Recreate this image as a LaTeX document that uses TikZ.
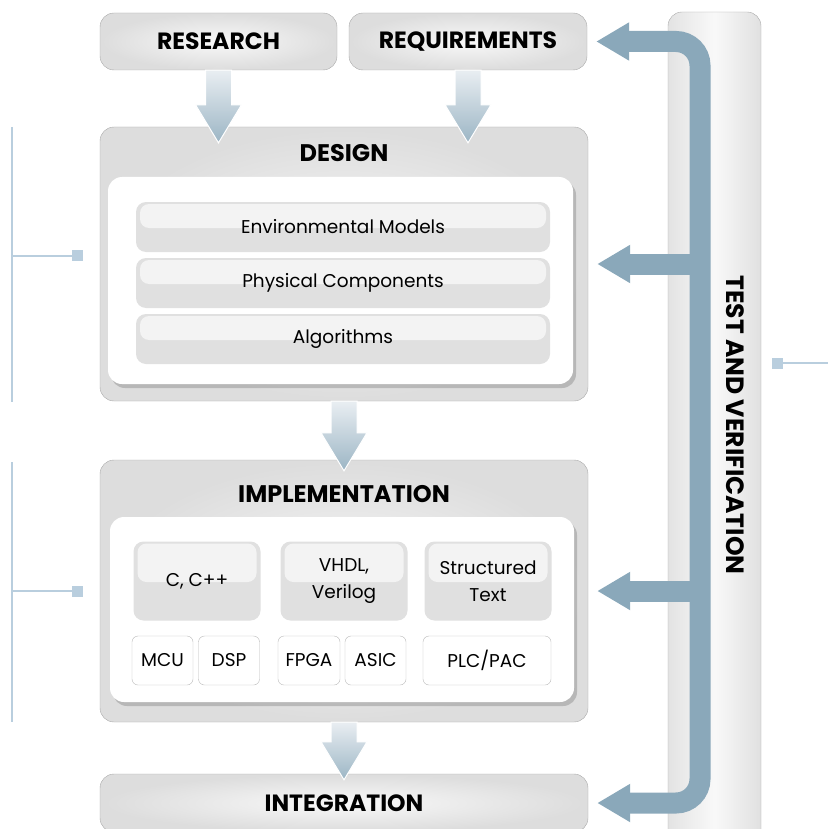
\documentclass[tikz,border=0pt]{standalone}
\usepackage{fontspec}
\setmainfont{Poppins}
\usetikzlibrary{arrows.meta,shadows,positioning}

\definecolor{fbblue}{HTML}{8AA8BA}
\definecolor{brkblue}{HTML}{B9CEDE}
\definecolor{flowtop}{HTML}{E9EEF2}
\definecolor{subgray}{HTML}{E0E0E0}
\definecolor{subhi}{HTML}{F3F3F3}
\definecolor{edgegray}{HTML}{A9A9A9}

\tikzset{
  stage/.style={draw=edgegray, rounded corners=14pt, inner sep=0pt,
    inner color=gray!5, outer color=gray!27,
    font=\bfseries\fontsize{23.5}{26}\selectfont},
  heading/.style={font=\bfseries\fontsize{24}{26}\selectfont},
  panel/.style={fill=white, rounded corners=14pt, inner sep=0pt,
    drop shadow={shadow xshift=3pt, shadow yshift=-4pt, opacity=.4}},
  part/.style={fill=subgray, rounded corners=10pt, inner sep=0pt, align=center,
    font=\fontsize{18.5}{27}\selectfont,
    path picture={\fill[subhi, rounded corners=9pt]
      ([xshift=4pt,yshift=-2pt]path picture bounding box.north west) rectangle
      ([xshift=-4pt,yshift=-1pt]path picture bounding box.east);}},
  chip/.style={draw=gray!55, fill=white, rounded corners=6pt, inner sep=0pt,
    minimum height=49pt, font=\fontsize{18.5}{22}\selectfont},
  flow/.style={draw=white, line width=1pt, top color=flowtop, bottom color=fbblue!85},
  fb/.style={draw=fbblue, line width=21pt},
  fbtip/.style={-{Triangle[width=36pt,length=33pt]}},
  brk/.style={draw=brkblue, line width=2pt},
  tick/.style={fill=brkblue, minimum size=11pt, inner sep=0pt}
}

\newcommand{\flowarrow}[3]{%
  \path (#1.south |- #2.north) ++(0,#3) coordinate (ftip);
  \shade[flow] ([xshift=-13pt]#1.south) -- ([xshift=13pt]#1.south)
    -- ([xshift=13pt,yshift=38pt]ftip) -- ([xshift=23pt,yshift=38pt]ftip)
    -- (ftip) -- ([xshift=-23pt,yshift=38pt]ftip)
    -- ([xshift=-13pt,yshift=38pt]ftip) -- cycle;}

\begin{document}
\begin{tikzpicture}[x=1pt,y=-1pt]
\useasboundingbox (0,0) rectangle (828,829);

% test and verification column
\node[stage, minimum width=93pt, minimum height=838pt,
  left color=gray!22, right color=gray!24, middle color=gray!5] (tv) at (714.5,431) {};
\node[heading, rotate=-90, font=\bfseries\fontsize{25}{26}\selectfont] (tvlabel) at (735,425) {TEST AND VERIFICATION};

% top row
\node[stage, minimum width=237pt, minimum height=57pt] (res) at (218.5,41.5) {RESEARCH};
\node[stage, minimum width=238pt, minimum height=57pt] (req) at (468,41.5) {REQUIREMENTS};

% design
\node[stage, minimum width=488pt, minimum height=274pt] (des) at (344,264) {};
\node[heading] (destitle) at (344,153) {DESIGN};
\node[panel, minimum width=465pt, minimum height=207pt] (despanel) at (340.5,280.5) {};
\foreach \y/\name/\txt in {227/env/Environmental Models,283/phys/Physical Components,339/alg/Algorithms}
  \node[part, minimum width=414pt, minimum height=50pt] (\name) at (343,\y) {\txt};

% implementation
\node[stage, minimum width=488pt, minimum height=262pt] (impl) at (344,591) {};
\node[heading] (impltitle) at (344,494) {IMPLEMENTATION};
\node[panel, minimum width=464pt, minimum height=185pt] (implpanel) at (342,609.5) {};
\foreach \x/\name/\txt in {197/cc/{C, C++},344/hdl/{VHDL,\\Verilog},488/st/{Structured\\Text}}
  \node[part, minimum width=127pt, minimum height=79pt] (\name) at (\x,581) {\txt};
\foreach \x/\w/\name/\txt in {162.5/61/mcu/MCU,229/61/dsp/DSP,309/62/fpga/FPGA,375.5/61/asic/ASIC,487/128/plc/{PLC/PAC}}
  \node[chip, minimum width=\w pt] (\name) at (\x,660.5) {\txt};

% integration
\node[stage, minimum width=488pt, minimum height=58pt] (integ) at (344,803) {INTEGRATION};

% flow down
\flowarrow{res}{des}{16}
\flowarrow{req}{des}{16}
\flowarrow{des}{impl}{11}
\flowarrow{impl}{integ}{6}

% feedback
\coordinate (trunk) at (700,400);
\draw[fb, fbtip] (trunk |- des.east) -- ([xshift=9pt]des.east);
\draw[fb, fbtip] (trunk |- impl.east) -- ([xshift=9pt]impl.east);
\draw[fb, rounded corners=24pt, {Triangle[width=36pt,length=33pt]}-{Triangle[width=36pt,length=33pt]}]
  ([xshift=9pt]req.east) -| (trunk) |- ([xshift=9pt]integ.east);

% brackets
\draw[brk] (12,127) -- (12,402);
\node[tick] (destick) at (77.5,255.5) {};
\draw[brk] (12,255.5) -- (destick);
\draw[brk] (12,462) -- (12,722);
\node[tick] (impltick) at (77.5,591) {};
\draw[brk] (12,591) -- (impltick);
\node[tick] (tvtick) at (777.5,363) {};
\draw[brk] (tvtick) -- (828,363);
\end{tikzpicture}
\end{document}
